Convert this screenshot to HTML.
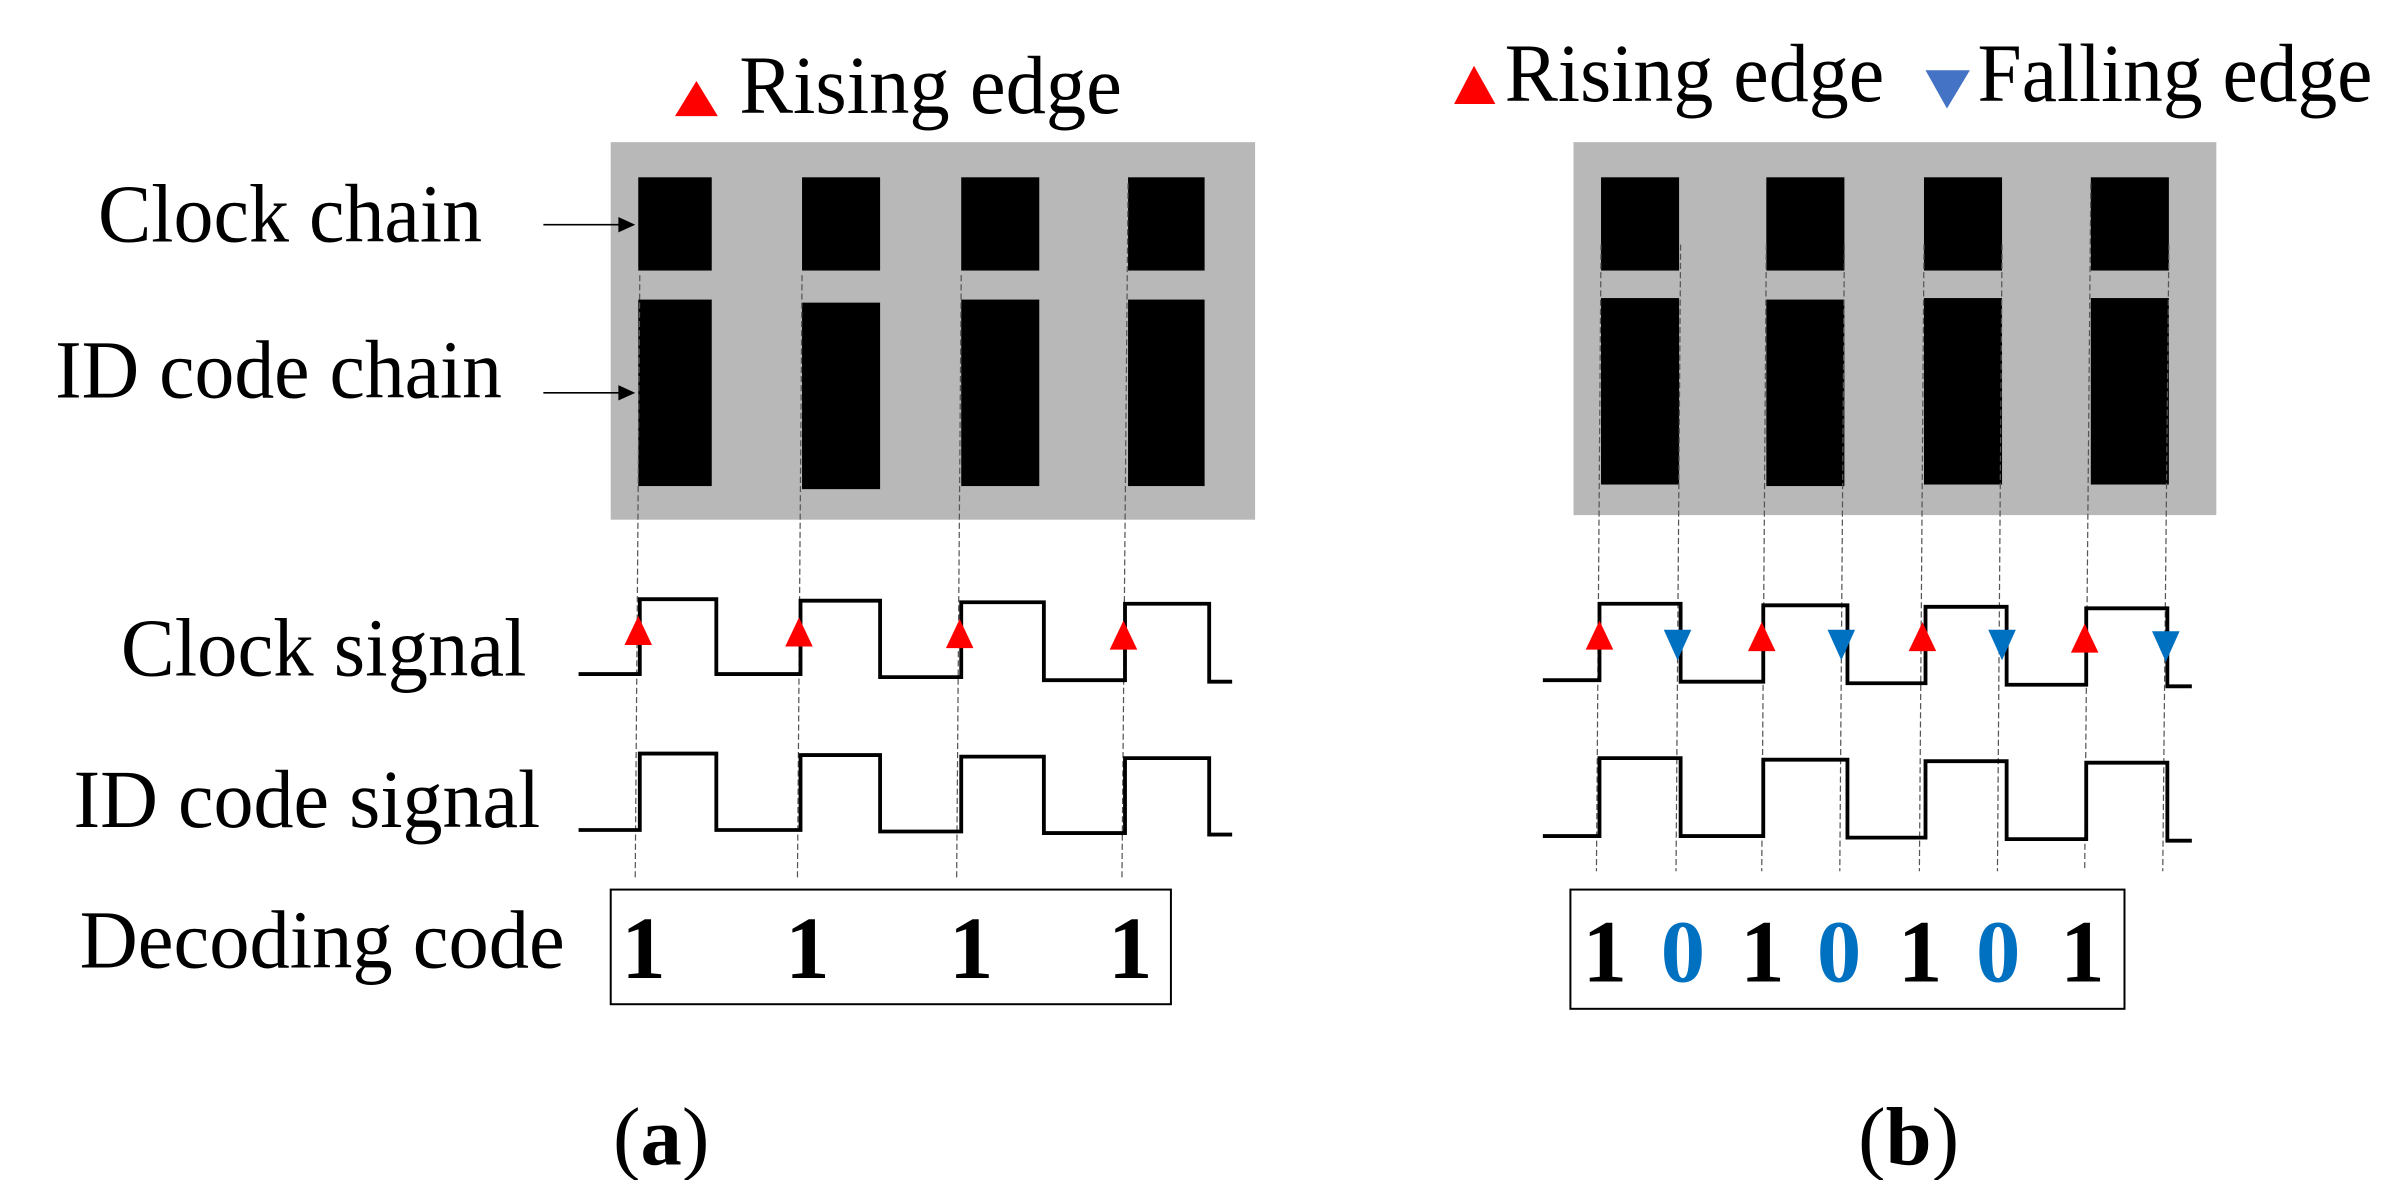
<!DOCTYPE html>
<html><head><meta charset="utf-8"><style>html,body{margin:0;padding:0;background:#fff}svg{display:block}</style></head>
<body>
<svg width="2400" height="1180" viewBox="0 0 1568 772" preserveAspectRatio="none" xmlns="http://www.w3.org/2000/svg" font-family="Liberation Serif, serif">
<rect width="1568" height="772" fill="#fff"/>
<!-- Panel a -->
<rect x="399" y="93" width="421" height="247" fill="#b9b8b9"/>
<g fill="#000">
<rect x="417" y="116" width="48" height="61"/><rect x="524" y="116" width="51" height="61"/><rect x="628" y="116" width="51" height="61"/><rect x="737" y="116" width="50" height="61"/>
<rect x="417" y="196" width="48" height="122"/><rect x="524" y="198" width="51" height="122"/><rect x="628" y="196" width="51" height="122"/><rect x="737" y="196" width="50" height="122"/>
</g>
<g stroke="#000" stroke-width="1"><line x1="355" y1="147" x2="408" y2="147"/><line x1="355" y1="257" x2="408" y2="257"/></g>
<polygon points="415,147 404,142 404,152" fill="#000"/><polygon points="415,257 404,252 404,262" fill="#000"/>
<g stroke="#555" stroke-width="0.8" stroke-dasharray="4,2" fill="none">
<line x1="418" y1="180" x2="415" y2="575"/><line x1="524" y1="180" x2="521" y2="575"/><line x1="628" y1="180" x2="625" y2="575"/><line x1="737" y1="120" x2="733" y2="575"/>
</g>
<polyline points="378,441 418,441 418,392 468,392 468,441 523,441 523,393 575,393 575,443 628,443 628,394 682,394 682,445 735,445 735,395 790,395 790,446 805,446" fill="none" stroke="#000" stroke-width="2.5"/>
<polyline points="378,543 418,543 418,493 468,493 468,543 523,543 523,494 575,494 575,544 628,544 628,495 682,495 682,545 735,545 735,496 790,496 790,546 805,546" fill="none" stroke="#000" stroke-width="2.5"/>
<g fill="#f00"><polygon points="417,403 408,422 426,422"/><polygon points="522,404 513,423 531,423"/><polygon points="627,405 618,424 636,424"/><polygon points="734,406 725,425 743,425"/></g>
<polygon points="455,53 441,76 469,76" fill="#f00"/>
<text x="483" y="74" font-size="54" textLength="250" lengthAdjust="spacingAndGlyphs">Rising edge</text>
<g font-size="54">
<text x="64" y="158" textLength="251" lengthAdjust="spacingAndGlyphs">Clock chain</text>
<text x="36" y="260" textLength="292" lengthAdjust="spacingAndGlyphs">ID code chain</text>
<text x="79" y="442" textLength="265" lengthAdjust="spacingAndGlyphs">Clock signal</text>
<text x="48" y="541" textLength="305" lengthAdjust="spacingAndGlyphs">ID code signal</text>
<text x="52" y="633" textLength="317" lengthAdjust="spacingAndGlyphs">Decoding code</text>
</g>
<rect x="399" y="582" width="366" height="75" fill="none" stroke="#000" stroke-width="1.3"/>
<g font-size="58" font-weight="bold"><text x="406" y="640">1</text><text x="513" y="640">1</text><text x="620" y="640">1</text><text x="724" y="640">1</text></g>
<text x="432" y="762" font-size="54" text-anchor="middle">(<tspan font-weight="bold">a</tspan>)</text>
<!-- Panel b -->
<rect x="1028" y="93" width="420" height="244" fill="#b9b8b9"/>
<g fill="#000">
<rect x="1046" y="116" width="51" height="61"/><rect x="1154" y="116" width="51" height="61"/><rect x="1257" y="116" width="51" height="61"/><rect x="1366" y="116" width="51" height="61"/>
<rect x="1046" y="195" width="51" height="122"/><rect x="1154" y="196" width="51" height="122"/><rect x="1257" y="195" width="51" height="122"/><rect x="1366" y="195" width="51" height="122"/>
</g>
<g stroke="#555" stroke-width="0.8" stroke-dasharray="4,2" fill="none">
<line x1="1046" y1="160" x2="1043" y2="570"/><line x1="1098" y1="160" x2="1095" y2="570"/>
<line x1="1154" y1="160" x2="1151" y2="570"/><line x1="1205" y1="160" x2="1202" y2="570"/>
<line x1="1257" y1="160" x2="1254" y2="570"/><line x1="1308" y1="160" x2="1305" y2="570"/>
<line x1="1366" y1="120" x2="1362" y2="570"/><line x1="1417" y1="160" x2="1413" y2="570"/>
</g>
<polyline points="1008,445 1045,445 1045,395 1098,395 1098,446 1152,446 1152,396 1207,396 1207,447 1258,447 1258,397 1311,397 1311,448 1363,448 1363,398 1416,398 1416,449 1432,449" fill="none" stroke="#000" stroke-width="2.5"/>
<polyline points="1008,547 1045,547 1045,496 1098,496 1098,547 1152,547 1152,497 1207,497 1207,548 1258,548 1258,498 1311,498 1311,549 1363,549 1363,499 1416,499 1416,550 1432,550" fill="none" stroke="#000" stroke-width="2.5"/>
<g fill="#f00"><polygon points="1045,406 1036,425 1054,425"/><polygon points="1151,407 1142,426 1160,426"/><polygon points="1256,407 1247,426 1265,426"/><polygon points="1362,408 1353,427 1371,427"/></g>
<g fill="#0070c0"><polygon points="1087,412 1105,412 1096,432"/><polygon points="1194,412 1212,412 1203,432"/><polygon points="1299,412 1317,412 1308,432"/><polygon points="1406,413 1424,413 1415,433"/></g>
<polygon points="963,43 950,68 977,68" fill="#f00"/>
<text x="983" y="66" font-size="54" textLength="248" lengthAdjust="spacingAndGlyphs">Rising edge</text>
<polygon points="1258,46 1287,46 1272,71" fill="#4472c4"/>
<text x="1292" y="66" font-size="54" textLength="258" lengthAdjust="spacingAndGlyphs">Falling edge</text>
<rect x="1026" y="582" width="362" height="78" fill="none" stroke="#000" stroke-width="1.3"/>
<g font-size="58" font-weight="bold"><text x="1034" y="642">1</text><text x="1085" y="642" fill="#0070c0">0</text><text x="1137" y="642">1</text><text x="1187" y="642" fill="#0070c0">0</text><text x="1240" y="642">1</text><text x="1291" y="642" fill="#0070c0">0</text><text x="1346" y="642">1</text></g>
<text x="1247" y="762" font-size="54" text-anchor="middle">(<tspan font-weight="bold">b</tspan>)</text>
</svg>
</body></html>
